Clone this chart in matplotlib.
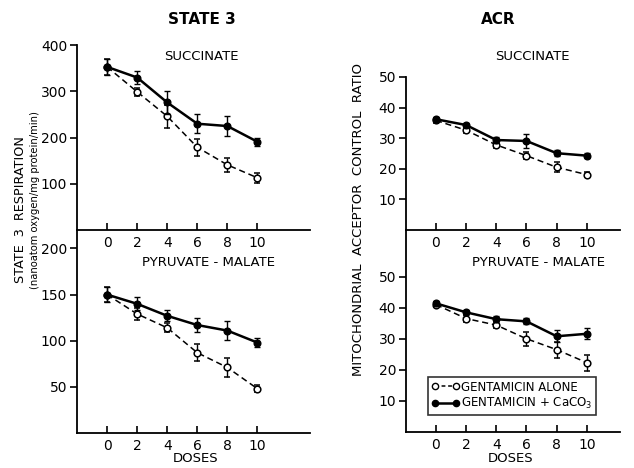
import numpy as np
import matplotlib
matplotlib.use("Agg")
import matplotlib.pyplot as plt
from matplotlib.lines import Line2D

plt.rcParams['font.family'] = ['DejaVu Sans']

doses = [0, 2, 4, 6, 8, 10]

# state 3 respiration, succinate
st3_succ_alone = [353, 299, 246, 179, 141, 113]
st3_succ_alone_err = [17, 8, 25, 18, 15, 11]
st3_succ_caco3 = [353, 330, 276, 230, 225, 191]
st3_succ_caco3_err = [17, 14, 24, 20, 21, 9]

# state 3 respiration, pyruvate-malate
st3_pm_alone = [150, 129, 114, 87, 71, 48]
st3_pm_alone_err = [8, 6, 5, 9, 10, 4]
st3_pm_caco3 = [150, 140, 127, 117, 111, 98]
st3_pm_caco3_err = [8, 7, 6, 8, 10, 5]

# acceptor control ratio, succinate
acr_succ_alone = [35.8, 32.6, 27.8, 24.3, 20.5, 18.1]
acr_succ_alone_err = [0.8, 0.9, 1.0, 1.1, 1.6, 0.9]
acr_succ_caco3 = [36.2, 34.3, 29.4, 29.1, 25.1, 24.3]
acr_succ_caco3_err = [0.8, 0.8, 1.0, 2.3, 0.9, 0.8]

# acceptor control ratio, pyruvate-malate
acr_pm_alone = [41.0, 36.5, 34.4, 30.0, 26.5, 22.3]
acr_pm_alone_err = [0.8, 1.0, 1.0, 2.2, 2.6, 2.6]
acr_pm_caco3 = [41.4, 38.5, 36.3, 35.6, 30.8, 31.6]
acr_pm_caco3_err = [0.8, 0.9, 0.9, 1.0, 2.0, 1.8]

fig = plt.figure(figsize=(6.34, 4.68), dpi=100)


def style_axes(ax, xmax, ylim, yticks):
    ax.set_xlim(-2, xmax)
    ax.set_ylim(*ylim)
    ax.set_xticks(doses)
    ax.set_yticks(yticks)
    ax.spines['top'].set_visible(False)
    ax.spines['right'].set_visible(False)
    ax.spines['left'].set_linewidth(1.3)
    ax.spines['bottom'].set_linewidth(1.3)
    ax.tick_params(axis='x', direction='in', length=5, width=1.2, labelsize=10, pad=4)
    ax.tick_params(axis='y', direction='out', length=5, width=1.2, labelsize=10, pad=2)
    ax.patch.set_alpha(0)


def draw_series(ax, alone, alone_err, caco3, caco3_err):
    ax.errorbar(doses, alone, yerr=alone_err, fmt='o--', color='black', mfc='white',
                mec='black', ms=4.8, mew=1.1, lw=1.1, elinewidth=1.0, capsize=2.5,
                dashes=(4, 2.5), zorder=3)
    ax.errorbar(doses, caco3, yerr=caco3_err, fmt='o-', color='black', mfc='black',
                ms=4.8, lw=1.8, elinewidth=1.0, capsize=2.5, zorder=4)


# left column: state 3 respiration
ax1 = fig.add_axes([0.1215, 0.5085, 0.3675, 0.395])
draw_series(ax1, st3_succ_alone, st3_succ_alone_err, st3_succ_caco3, st3_succ_caco3_err)
style_axes(ax1, 13.5, (0, 400), [100, 200, 300, 400])

ax2 = fig.add_axes([0.1215, 0.0748, 0.3675, 0.4337])
draw_series(ax2, st3_pm_alone, st3_pm_alone_err, st3_pm_caco3, st3_pm_caco3_err)
style_axes(ax2, 13.5, (0, 220), [50, 100, 150, 200])

# right column: acceptor control ratio
ax3 = fig.add_axes([0.640, 0.5085, 0.338, 0.327])
draw_series(ax3, acr_succ_alone, acr_succ_alone_err, acr_succ_caco3, acr_succ_caco3_err)
style_axes(ax3, 12.2, (0, 50), [10, 20, 30, 40, 50])

ax4 = fig.add_axes([0.640, 0.077, 0.338, 0.4315])
draw_series(ax4, acr_pm_alone, acr_pm_alone_err, acr_pm_caco3, acr_pm_caco3_err)
style_axes(ax4, 12.2, (0, 65), [10, 20, 30, 40, 50])

# panel titles
fig.text(202 / 634, 1 - 19 / 468, "STATE 3", ha='center', va='center', fontsize=11, fontweight='bold')
fig.text(498 / 634, 1 - 20 / 468, "ACR", ha='center', va='center', fontsize=11, fontweight='bold')
fig.text(201 / 634, 1 - 57 / 468, "SUCCINATE", ha='center', va='center', fontsize=9.5)
fig.text(532 / 634, 1 - 57 / 468, "SUCCINATE", ha='center', va='center', fontsize=9.5)
fig.text(208 / 634, 1 - 263 / 468, "PYRUVATE - MALATE", ha='center', va='center', fontsize=9.5)
fig.text(538 / 634, 1 - 263 / 468, "PYRUVATE - MALATE", ha='center', va='center', fontsize=9.5)

# axis labels
fig.text(21 / 634, 1 - 210 / 468, "STATE  3  RESPIRATION", rotation=90, ha='center', va='center', fontsize=9.2)
fig.text(35 / 634, 1 - 200 / 468, "(nanoatom oxygen/mg protein/min)", rotation=90,
         ha='center', va='center', fontsize=7.2)
fig.text(358 / 634, 1 - 220 / 468, "MITOCHONDRIAL  ACCEPTOR  CONTROL  RATIO", rotation=90,
         ha='center', va='center', fontsize=9.5)
fig.text(196 / 634, 1 - 459 / 468, "DOSES", ha='center', va='center', fontsize=9.5)
fig.text(511 / 634, 1 - 459 / 468, "DOSES", ha='center', va='center', fontsize=9.5)

# legend
handles = [
    Line2D([], [], ls='--', dashes=(2.5, 1.8), color='black', marker='o', mfc='white', ms=4.5, lw=1.1),
    Line2D([], [], ls='-', color='black', marker='o', mfc='black', ms=4.5, lw=1.8),
]
labels = ["GENTAMICIN ALONE", "GENTAMICIN + CaCO$_3$"]
leg = fig.legend(handles, labels, loc='upper left', bbox_to_anchor=(428 / 634, 1 - 377 / 468),
                 frameon=True, fancybox=False, edgecolor='black', fontsize=8.5, numpoints=2,
                 handlelength=2.4, handletextpad=0.1, borderpad=0.3, labelspacing=0.2,
                 borderaxespad=0, markerfirst=True)
leg.get_frame().set_linewidth(1.2)

fig.savefig("out.png", dpi=100)
